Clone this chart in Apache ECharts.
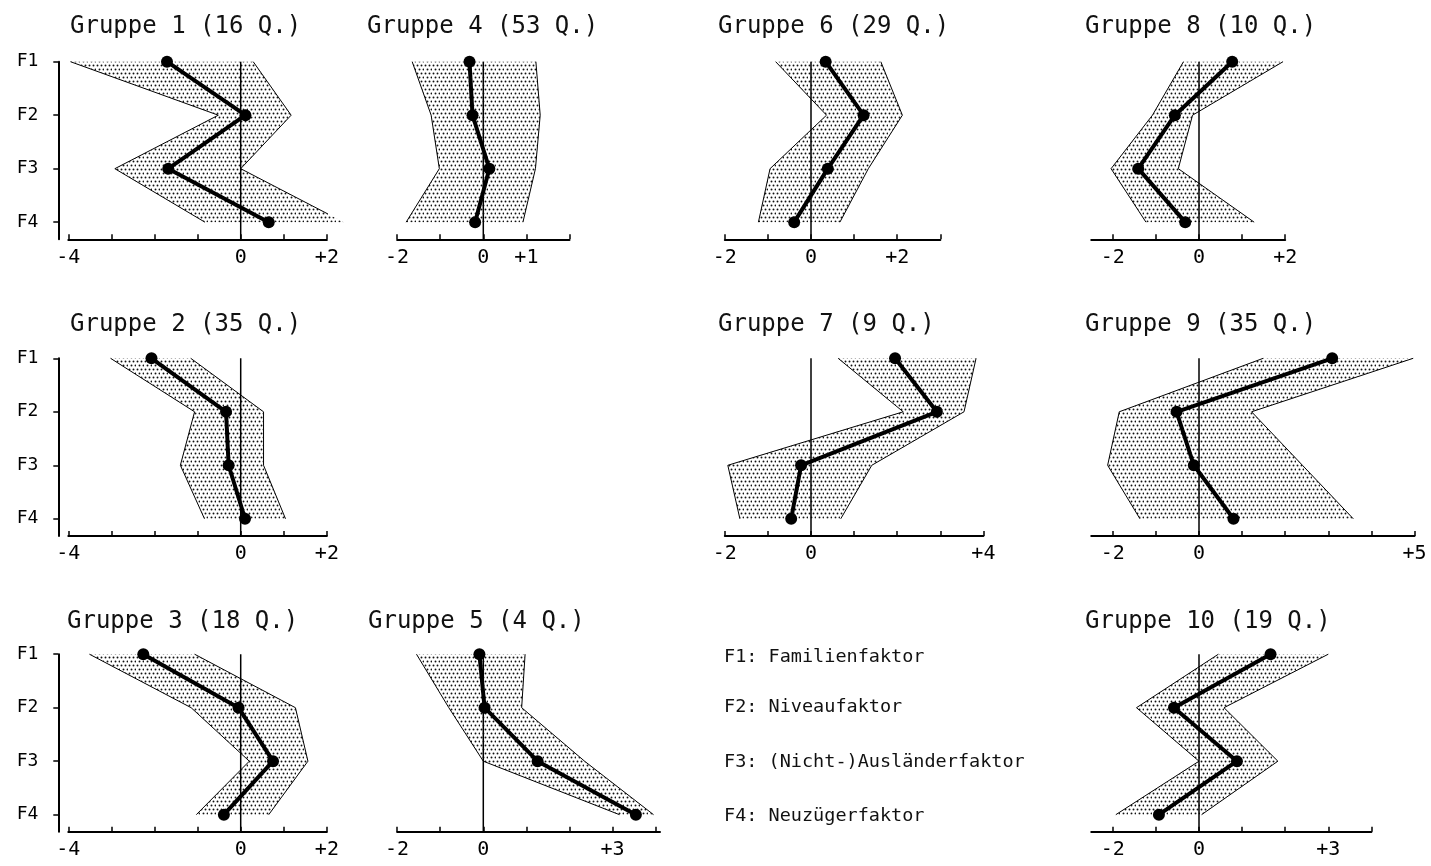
<!DOCTYPE html>
<html>
<head>
<meta charset="utf-8">
<title>Gruppen – Faktorprofile</title>
<script src="https://cdn.jsdelivr.net/npm/echarts@6.0.0/dist/echarts.min.js"></script>
<style>
  html, body { margin: 0; padding: 0; background: #fff; }
  #main { width: 1431px; height: 866px; }
</style>
</head>
<body>
<div id="main"></div>
<script>
// --- data (groups in order 1..10) ---
var factors = ['F1', 'F2', 'F3', 'F4'];
var groupNames = ['Gruppe 1 (16 Q.)', 'Gruppe 2 (35 Q.)', 'Gruppe 3 (18 Q.)', 'Gruppe 4 (53 Q.)', 'Gruppe 5 (4 Q.)',
                  'Gruppe 6 (29 Q.)', 'Gruppe 7 (9 Q.)', 'Gruppe 8 (10 Q.)', 'Gruppe 9 (35 Q.)', 'Gruppe 10 (19 Q.)'];
var meanValues = [
    [-1.71, 0.11, -1.68, 0.65],
    [-2.07, -0.34, -0.28, 0.10],
    [-2.26, -0.05, 0.75, -0.39],
    [-0.32, -0.25, 0.14, -0.19],
    [-0.09, 0.03, 1.26, 3.54],
    [0.34, 1.22, 0.39, -0.39],
    [1.95, 2.92, -0.23, -0.46],
    [0.77, -0.56, -1.41, -0.32],
    [3.09, -0.52, -0.12, 0.80],
    [1.66, -0.58, 0.88, -0.93]
];
var lowValues = [
    [-3.95, -0.52, -2.92, -0.83],
    [-3.02, -1.07, -1.40, -0.84],
    [-3.51, -1.15, 0.20, -1.03],
    [-1.65, -1.21, -1.02, -1.79],
    [-1.55, -0.80, 0.0, 3.16],
    [-0.82, 0.36, -0.95, -1.22],
    [0.63, 2.14, -1.93, -1.65],
    [-0.36, -1.08, -2.04, -1.23],
    [1.49, -1.85, -2.12, -1.37],
    [0.45, -1.45, 0.0, -1.93]
];
var highValues = [
    [0.29, 1.17, 0.0, 2.39],
    [-1.16, 0.53, 0.53, 1.04],
    [-1.07, 1.27, 1.56, 0.65],
    [1.22, 1.32, 1.21, 0.92],
    [0.97, 0.89, 2.35, 3.95],
    [1.62, 2.12, 1.33, 0.67],
    [3.83, 3.55, 1.41, 0.69],
    [1.95, -0.15, -0.48, 1.28],
    [4.97, 1.22, 2.40, 3.58],
    [3.0, 0.58, 1.83, 0.06]
];
var axisMin = [-4, -4, -4, -2, -2, -2, -2, -2.5, -2.5, -2.5];
var axisMax = [2, 2, 2, 2, 4.1, 3, 4, 2, 5, 4];
var tickLabels = [[-4, 0, 2], [-4, 0, 2], [-4, 0, 2], [-2, 0, 1], [-2, 0, 3],
                  [-2, 0, 2], [-2, 0, 4], [-2, 0, 2], [-2, 0, 5], [-2, 0, 3]];
var legendLines = ['F1: Familienfaktor', 'F2: Niveaufaktor', 'F3: (Nicht-)Ausländerfaktor', 'F4: Neuzügerfaktor'];

// --- layout ---
var UNIT = 43.1;                       // px per unit on every x axis
var colZero = [240.7, 483.3, 811, 1199];
var rowTop = [61.7, 358.3, 654.2];
var rowTitleTop = [13, 310.5, 607.5];
var panelCol = [0, 0, 0, 1, 1, 2, 2, 3, 3, 3];
var panelRow = [0, 1, 2, 0, 2, 0, 1, 0, 1, 2];
var titleLeft = [70, 70, 67, 367, 368, 718, 718, 1085, 1085, 1085];
var PLOT_H = 177.6;
var Y_MAX = 4.32;
var FONT = 'DejaVu Sans Mono';

// stipple pattern for the bands
var pat = document.createElement('canvas');
pat.width = 8; pat.height = 8;
var pctx = pat.getContext('2d');
pctx.fillStyle = '#111';
[[1.5, 1.5], [5.5, 1.5], [3.5, 5.5], [7.5, 5.5]].forEach(function (p) {
    pctx.beginPath();
    pctx.arc(p[0], p[1], 0.95, 0, Math.PI * 2);
    pctx.fill();
});
var stipple = { image: pat, repeat: 'repeat' };

function fmtTick(v) {
    if (v > 0) return '+' + v;
    if (v < 0) return '-' + Math.abs(v);
    return '0';
}

function intTicks(min, max) {
    var out = [];
    for (var v = Math.ceil(min); v <= Math.floor(max); v++) out.push(v);
    return out;
}

function toPoints(arr) {
    return arr.map(function (v, i) { return [v, i + 1]; });
}

function makeBand(g) {
    return function (params, api) {
        var pts = [];
        for (var i = 0; i < 4; i++) pts.push(api.coord([lowValues[g][i], i + 1]));
        for (var j = 3; j >= 0; j--) pts.push(api.coord([highValues[g][j], j + 1]));
        return {
            type: 'polygon',
            shape: { points: pts },
            style: { fill: stipple, stroke: null }
        };
    };
}

var grids = [], xAxes = [], yAxes = [], series = [], titles = [];

for (var g = 0; g < groupNames.length; g++) {
    var c = panelCol[g], r = panelRow[g];
    grids.push({
        left: colZero[c] + axisMin[g] * UNIT,
        top: rowTop[r],
        width: (axisMax[g] - axisMin[g]) * UNIT,
        height: PLOT_H
    });
    xAxes.push({
        gridIndex: g,
        type: 'value',
        min: axisMin[g],
        max: axisMax[g],
        axisLine: { show: true, onZero: false, lineStyle: { color: '#000', width: 2 } },
        axisTick: { show: true, inside: true, length: 5, customValues: intTicks(axisMin[g], axisMax[g]),
                    lineStyle: { color: '#000', width: 1.5 } },
        axisLabel: { customValues: tickLabels[g], formatter: fmtTick, color: '#000',
                     fontFamily: FONT, fontSize: 20, margin: 8 },
        splitLine: { show: false }
    });
    yAxes.push({
        gridIndex: g,
        type: 'value',
        inverse: true,
        min: 1,
        max: Y_MAX,
        show: c === 0,
        offset: 10,
        axisLine: { show: true, onZero: false, lineStyle: { color: '#000', width: 2 } },
        axisTick: { show: true, length: 5, customValues: [1, 2, 3, 4], lineStyle: { color: '#000', width: 1.5 } },
        axisLabel: { customValues: [1, 2, 3, 4], formatter: function (v) { return factors[v - 1]; },
                     color: '#000', fontFamily: FONT, fontSize: 18, margin: 20 },
        splitLine: { show: false }
    });
    titles.push({
        text: groupNames[g],
        left: titleLeft[g],
        top: rowTitleTop[r],
        padding: 0,
        textStyle: { fontFamily: FONT, fontSize: 24, fontWeight: 'normal', color: '#111', lineHeight: 28 }
    });

    series.push({
        type: 'custom', xAxisIndex: g, yAxisIndex: g, silent: true, z: 1,
        data: [[0, 1]], renderItem: makeBand(g)
    });
    [lowValues[g], highValues[g]].forEach(function (edge) {
        series.push({
            type: 'line', xAxisIndex: g, yAxisIndex: g, silent: true, z: 2, clip: false,
            data: toPoints(edge), symbol: 'none',
            lineStyle: { color: '#000', width: 1 }
        });
    });
    series.push({
        type: 'line', xAxisIndex: g, yAxisIndex: g, silent: true, z: 3, clip: false,
        data: [[0, 1], [0, Y_MAX]], symbol: 'none',
        lineStyle: { color: '#000', width: 1.5 }
    });
    series.push({
        type: 'line', xAxisIndex: g, yAxisIndex: g, silent: true, z: 4, clip: false,
        data: toPoints(meanValues[g]), symbol: 'circle', symbolSize: 12,
        itemStyle: { color: '#000' },
        lineStyle: { color: '#000', width: 4 }
    });
}

var legendY = [657, 707.5, 762.5, 816];
var graphics = legendLines.map(function (t, i) {
    return {
        type: 'text', x: 724, y: legendY[i],
        style: { text: t, fill: '#111', font: '18.5px "' + FONT + '"', textVerticalAlign: 'middle' }
    };
});

var chart = echarts.init(document.getElementById('main'));
chart.setOption({
    animation: false,
    backgroundColor: '#fff',
    title: titles,
    grid: grids,
    xAxis: xAxes,
    yAxis: yAxes,
    series: series,
    graphic: graphics
});
</script>
</body>
</html>
